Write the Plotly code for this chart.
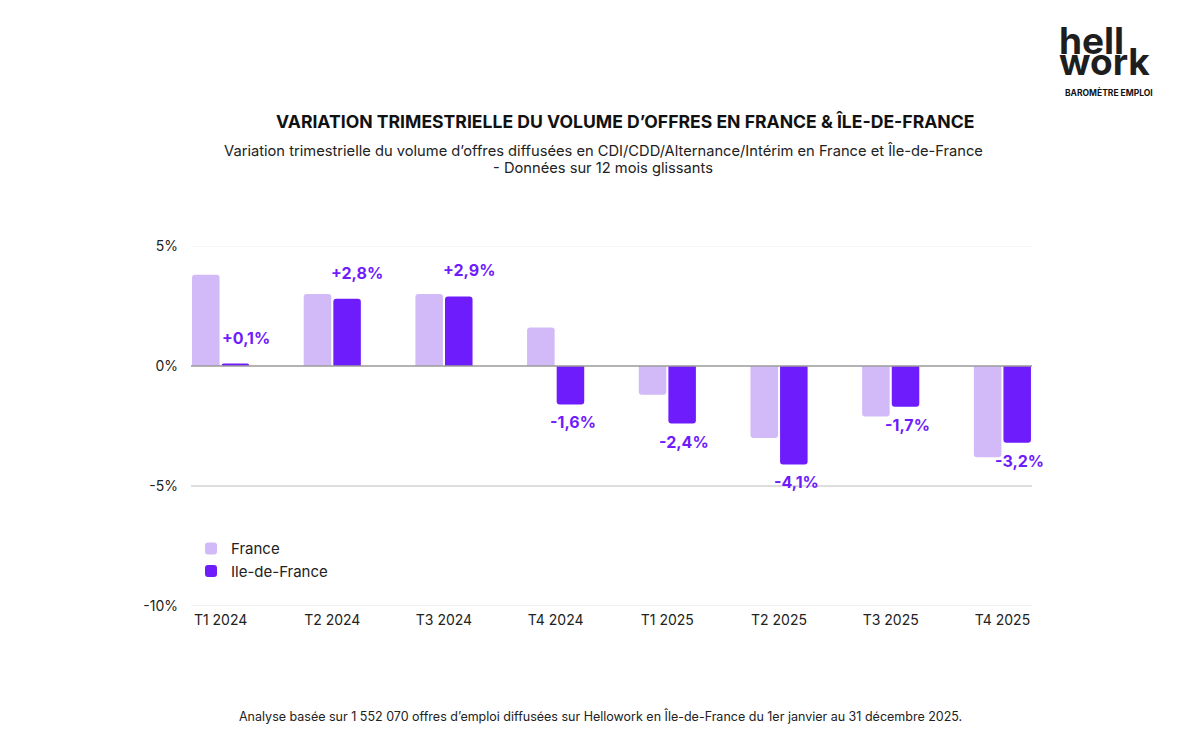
import plotly.graph_objects as go

categories = ["T1 2024", "T2 2024", "T3 2024", "T4 2024", "T1 2025", "T2 2025", "T3 2025", "T4 2025"]
france = [3.8, 3.0, 3.0, 1.6, -1.2, -3.0, -2.1, -3.8]
idf = [0.1, 2.8, 2.9, -1.6, -2.4, -4.1, -1.7, -3.2]
idf_labels = ["+0,1%", "+2,8%", "+2,9%", "-1,6%", "-2,4%", "-4,1%", "-1,7%", "-3,2%"]
y_ticks = [5, 0, -5, -10]
y_tick_labels = ["5%", "0%", "-5%", "-10%"]

C_FR = "#d2b9f8"
C_IDF = "#6f1cfd"
FONT = "Inter"

L, R, T, B = 191, 168, 246, 134
W_plot = 1200 - L - R
H_plot = 740 - T - B

fig = go.Figure()
fig.add_trace(go.Bar(x=categories, y=france, name="France",
                     marker=dict(color=C_FR, line=dict(width=0), cornerradius=3)))
fig.add_trace(go.Bar(x=categories, y=idf, name="Ile-de-France",
                     marker=dict(color=C_IDF, line=dict(width=0), cornerradius=3)))

anns = []
for c, v, t in zip(categories, idf, idf_labels):
    anns.append(dict(x=c, y=v, xref="x", yref="y", text=f"<b>{t}</b>", showarrow=False,
                     xshift=(25 if v >= 0 else 17), yshift=(26 if v >= 0 else -18),
                     font=dict(family=FONT, size=16, color=C_IDF)))


def px(xp, yp):
    return (xp - L) / W_plot, (740 - B - yp) / H_plot


def cont(xp, yp, text, size, color="#111111", bold=False, xanchor="center", align="center"):
    x, y = px(xp, yp)
    t = f"<b>{text}</b>" if bold else text
    return dict(x=x, y=y, xref="paper", yref="paper", xanchor=xanchor, yanchor="middle", text=t,
                showarrow=False, align=align, font=dict(family=FONT, size=size, color=color))


anns.append(cont(625, 122, "VARIATION TRIMESTRIELLE DU VOLUME D’OFFRES EN FRANCE &amp; ÎLE-DE-FRANCE", 17.6, bold=True))
anns.append(cont(603, 151, "Variation trimestrielle du volume d’offres diffusées en CDI/CDD/Alternance/Intérim en France et Île-de-France", 14.7, color="#222222"))
anns.append(cont(603, 168, "- Données sur 12 mois glissants", 14.7, color="#222222"))
anns.append(cont(600, 716, "Analyse basée sur 1 552 070 offres d’emploi diffusées sur Hellowork en Île-de-France du 1er janvier au 31 décembre 2025.", 12.5, color="#222222"))
anns.append(cont(1057, 51, "<span style='font-size:37px'>hell</span><br><span style='font-size:37px'>work</span>",
                 16, color="#1e1e1e", bold=True, xanchor="left", align="left"))
anns.append(cont(1109, 92, "BAROMÈTRE EMPLOI", 8.5, color="#111111", bold=True))

shapes = []
grid_colors = {5: "#ececec", 0: "#9a9a9a", -5: "#bdbdbd", -10: "#e3e3e3"}
for v in y_ticks:
    shapes.append(dict(type="line", xref="paper", yref="y", x0=0, x1=1, y0=v, y1=v,
                       line=dict(color=grid_colors[v], width=1.5 if v == 0 else 1.2),
                       layer="above" if v == 0 else "below"))

fig.update_layout(
    width=1200, height=740,
    paper_bgcolor="white", plot_bgcolor="white",
    margin=dict(l=L, r=R, t=T, b=B),
    barmode="group", bargap=0.47, bargroupgap=0.07,
    font=dict(family=FONT, size=14, color="#222222"),
    showlegend=True,
    legend=dict(x=0.0, y=0.205, xanchor="left", yanchor="top",
                font=dict(family=FONT, size=15, color="#222222"),
                bgcolor="rgba(0,0,0,0)", tracegroupgap=4),
    xaxis=dict(range=[-0.265, 7.265], showgrid=False, zeroline=False, showline=False,
               tickfont=dict(family=FONT, size=14, color="#222222"), ticks="", ticklabelstandoff=4),
    yaxis=dict(range=[-10, 5], tickvals=y_ticks, ticktext=y_tick_labels, showgrid=False, zeroline=False,
               showline=False, ticks="", tickfont=dict(family=FONT, size=14, color="#222222"),
               ticklabelstandoff=12),
    annotations=anns,
    shapes=shapes,
)

fig.write_html("out.html", config={"displayModeBar": False},
               post_script="document.body.style.margin='0';document.body.style.padding='0';")
